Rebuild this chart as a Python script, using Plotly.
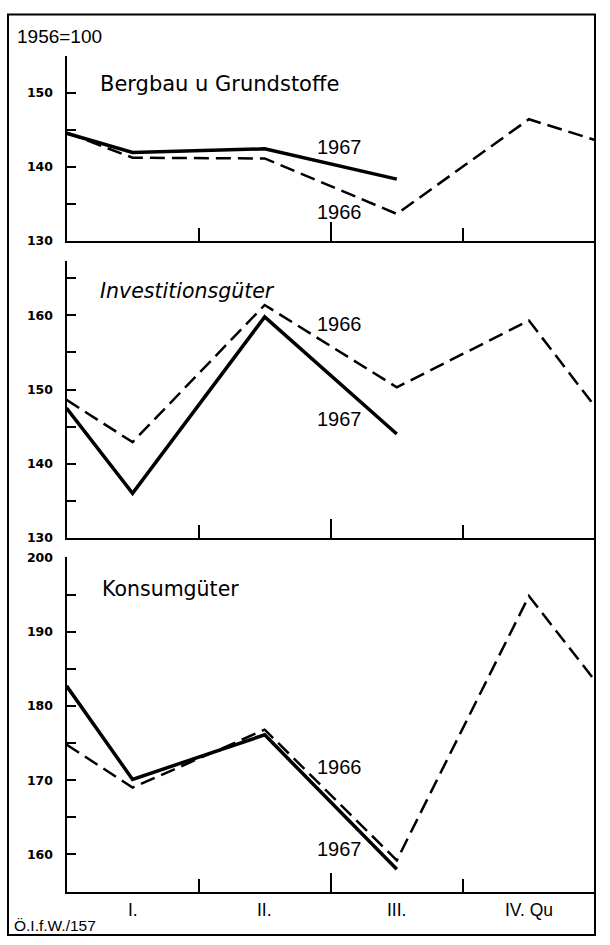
import plotly.graph_objects as go
from plotly.subplots import make_subplots

# ---- data ----
quarter_labels = ["I.", "II.", "III.", "IV. Qu"]
quarter_mid = [0.5, 1.5, 2.5, 3.5]
x_1966 = [0.0, 0.5, 1.5, 2.5, 3.5, 4.0]
x_1967 = [0.0, 0.5, 1.5, 2.5]

bergbau_1966 = [144.6, 141.2, 141.1, 133.6, 146.4, 143.6]
bergbau_1967 = [144.5, 141.9, 142.4, 138.3]
invest_1966 = [148.6, 142.9, 161.4, 150.3, 159.3, 147.7]
invest_1967 = [147.5, 136.0, 159.8, 144.0]
konsum_1966 = [174.8, 169.0, 176.8, 159.2, 194.8, 183.4]
konsum_1967 = [182.7, 170.1, 176.1, 158.0]

panel_titles = ["Bergbau u Grundstoffe", "Investitionsgüter", "Konsumgüter"]
ranges = [[130, 155], [130, 167.4], [154.9, 200]]
major_ticks = [[130, 140, 150], [130, 140, 150, 160], [160, 170, 180, 190, 200]]
minor_ticks = [[135, 145, 155], [135, 145, 155, 165], [165, 175, 185, 195]]

FONT = "Liberation Sans, Arial, sans-serif"
FONT_T = "DejaVu Sans, Verdana, sans-serif"

W, H = 610, 945

fig = make_subplots(rows=3, cols=1)

series = [(bergbau_1966, bergbau_1967), (invest_1966, invest_1967), (konsum_1966, konsum_1967)]
for i, (s66, s67) in enumerate(series, start=1):
    fig.add_trace(go.Scatter(x=x_1966, y=s66, mode="lines",
                             line=dict(color="black", width=2.5, dash="15px,7px"),
                             showlegend=False, hoverinfo="skip"), row=i, col=1)
    fig.add_trace(go.Scatter(x=x_1967, y=s67, mode="lines",
                             line=dict(color="black", width=3.5),
                             showlegend=False, hoverinfo="skip"), row=i, col=1)

xdom = [66.5 / W, 595 / W]
ydoms = [
    [1 - 236.3 / H, 1 - 48.4 / H],
    [1 - 538.3 / H, 1 - 256.6 / H],
    [1 - 898.5 / H, 1 - 558.3 / H],
]

for i in range(3):
    sfx = "" if i == 0 else str(i + 1)
    fig.layout["xaxis" + sfx].update(
        domain=xdom, range=[0, 4], showline=True, linecolor="black", linewidth=2,
        showgrid=False, zeroline=False,
        tickvals=[2], ticktext=[""], ticks="inside", ticklen=19, tickwidth=2, tickcolor="black",
        minor=dict(tickvals=[1, 3], ticks="inside", ticklen=13, tickwidth=2, tickcolor="black"),
        fixedrange=True,
    )
    tv = sorted(major_ticks[i] + minor_ticks[i])
    tt = [str(v) if v in major_ticks[i] else "" for v in tv]
    fig.layout["yaxis" + sfx].update(
        domain=ydoms[i], range=ranges[i], showline=True, linecolor="black", linewidth=2,
        showgrid=False, zeroline=False,
        tickvals=tv, ticktext=tt, ticks="inside", ticklen=9, tickwidth=1.6, tickcolor="black",
        tickfont=dict(family=FONT_T, size=12.5, color="black", weight="bold"),
        ticklabelstandoff=9, fixedrange=True,
    )

annotations = []

# panel titles
title_pos = [(0.235, 151.1, False, 21), (0.235, 163.3, True, 20.5), (0.255, 195.7, False, 20.5)]
for i, (tx, ty, ital, fs) in enumerate(title_pos):
    sfx = "" if i == 0 else str(i + 1)
    annotations.append(dict(x=tx, y=ty, xref="x" + sfx, yref="y" + sfx, text=panel_titles[i],
                            showarrow=False, xanchor="left", yanchor="middle",
                            font=dict(family=FONT_T, size=fs, color="black",
                                      style="italic" if ital else "normal")))

# year labels
year_labels = [
    (1, "1967", 142.7), (1, "1966", 133.8),
    (2, "1966", 158.9), (2, "1967", 146.05),
    (3, "1966", 171.8), (3, "1967", 160.7),
]
for p, txt, yy in year_labels:
    sfx = "" if p == 1 else str(p)
    annotations.append(dict(x=2.063, y=yy, xref="x" + sfx, yref="y" + sfx, text=txt,
                            showarrow=False, xanchor="center", yanchor="middle",
                            font=dict(family=FONT, size=20, color="black")))

# quarter labels
for q, lab in zip(quarter_mid, quarter_labels):
    annotations.append(dict(x=q, y=1 - 917 / H, xref="x3", yref="paper", text=lab,
                            showarrow=False, xanchor="center", yanchor="middle",
                            font=dict(family=FONT, size=17.5, color="black")))

annotations.append(dict(x=15 / W, y=1 - 29 / H, xref="paper", yref="paper", text="1956=100",
                        showarrow=False, xanchor="left", yanchor="middle",
                        font=dict(family=FONT, size=19, color="black")))
annotations.append(dict(x=12 / W, y=1 - 932 / H, xref="paper", yref="paper", text="Ö.I.f.W./157",
                        showarrow=False, xanchor="left", yanchor="middle",
                        font=dict(family=FONT, size=15.5, color="black")))

fig.update_layout(
    width=W, height=H, margin=dict(l=0, r=0, t=0, b=0),
    paper_bgcolor="white", plot_bgcolor="white",
    annotations=annotations,
    shapes=[dict(type="rect", xref="paper", yref="paper",
                 x0=8 / W, x1=595 / W, y0=1 - 942 / H, y1=1 - 6.7 / H,
                 line=dict(color="black", width=2))],
)

fig.write_html("out.html", config={"displayModeBar": False},
               post_script="document.body.style.margin='0';document.body.style.overflow='hidden';")
